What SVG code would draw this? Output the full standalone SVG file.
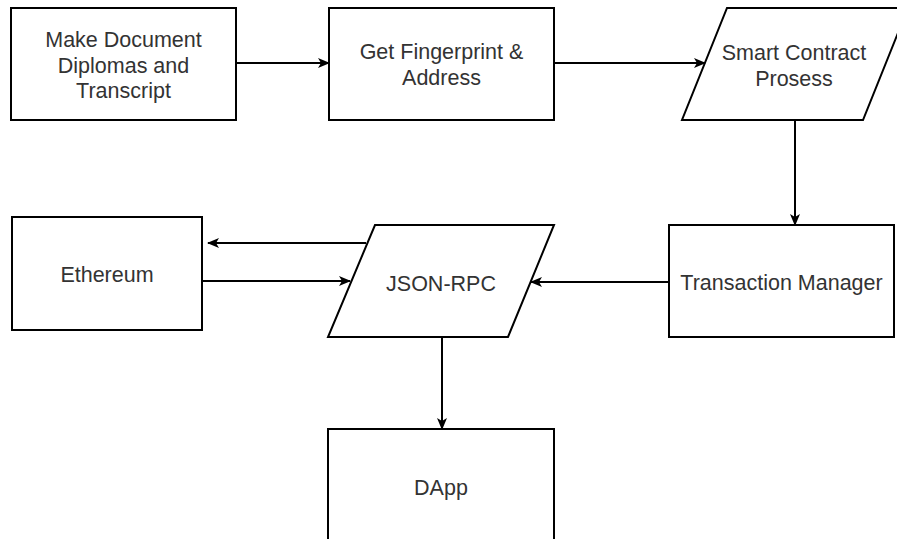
<svg xmlns="http://www.w3.org/2000/svg" width="897" height="539" viewBox="0 0 897 539">
<defs>
<marker id="arr" viewBox="0 0 12 10" refX="11" refY="5" markerWidth="12" markerHeight="10" markerUnits="userSpaceOnUse" orient="auto">
<path d="M0,0 L12,5 L0,10 L3,5 Z" fill="#000"/>
</marker>
</defs>
<style>
.s{fill:#fff;stroke:#000;stroke-width:2}
.t{font-family:"Liberation Sans",Arial,sans-serif;font-size:21.5px;fill:#333;text-anchor:middle}
.c{fill:none;stroke:#000;stroke-width:2;marker-end:url(#arr)}
</style>
<rect width="897" height="539" fill="#fff"/>
<g id="make-document">
<rect class="s" x="11" y="8" width="225" height="112"/>
<text class="t" x="123.5" y="47">Make Document</text>
<text class="t" x="123.5" y="72.5">Diplomas and</text>
<text class="t" x="123.5" y="98">Transcript</text>
</g>
<g id="fingerprint">
<rect class="s" x="329" y="8" width="225" height="112"/>
<text class="t" x="441.5" y="59">Get Fingerprint &amp;</text>
<text class="t" x="441.5" y="85">Address</text>
</g>
<g id="smart-contract">
<polygon class="s" points="727,8 908,8 863,120 682,120"/>
<text class="t" x="794" y="60">Smart Contract</text>
<text class="t" x="794" y="86">Prosess</text>
</g>
<g id="transaction-manager">
<rect class="s" x="669" y="225" width="225" height="112"/>
<text class="t" x="781.5" y="290">Transaction Manager</text>
</g>
<g id="json-rpc">
<polygon class="s" points="375,225 554,225 508,337 328,337"/>
<text class="t" x="441" y="291">JSON-RPC</text>
</g>
<g id="ethereum">
<rect class="s" x="12" y="217" width="190" height="113"/>
<text class="t" x="107" y="282">Ethereum</text>
</g>
<g id="dapp">
<rect class="s" x="328" y="429" width="226" height="120"/>
<text class="t" x="441" y="495">DApp</text>
</g>
<g id="connectors">
<path class="c" d="M236,63 L329,63"/>
<path class="c" d="M554,63 L705,63"/>
<path class="c" d="M795,120 L795,225"/>
<path class="c" d="M669,282 L531,282"/>
<path class="c" d="M366,243 L208,243"/>
<path class="c" d="M202,281 L350,281"/>
<path class="c" d="M442,337 L442,429"/>
</g>
</svg>
